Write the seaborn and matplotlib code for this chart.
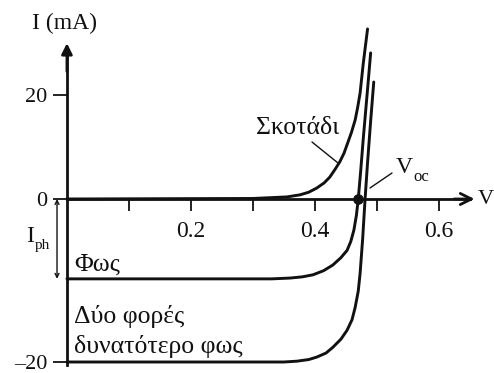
import numpy as np
import pandas as pd
import matplotlib
matplotlib.use("Agg")
import matplotlib.pyplot as plt
import seaborn as sns
from matplotlib.ticker import FixedLocator

# ---- data (V in volts, I in mA) ----
V_dark = [0.0, 0.30, 0.355, 0.376, 0.390, 0.403, 0.415, 0.424, 0.432, 0.440, 0.447,
          0.453, 0.459, 0.465, 0.469, 0.473, 0.478, 0.485]
I_dark = [0.0, 0.1, 0.4, 0.8, 1.3, 2.1, 3.1, 4.2, 5.6, 7.1, 8.8,
          10.8, 12.8, 15.2, 17.6, 20.4, 26.0, 32.7]

V_light = [0.0, 0.33, 0.360, 0.380, 0.397, 0.414, 0.429, 0.442, 0.452, 0.458,
           0.463, 0.467, 0.470, 0.474, 0.478, 0.482, 0.486, 0.490]
I_light = [-9.8, -9.8, -9.7, -9.55, -9.3, -8.8, -8.1, -7.2, -6.3, -5.2,
           -3.8, -2.0, 0.0, 5.5, 11.5, 17.0, 22.5, 28.1]

V_double = [0.0, 0.35, 0.371, 0.390, 0.403, 0.418, 0.429, 0.442, 0.452, 0.460,
            0.465, 0.470, 0.473, 0.477, 0.481, 0.485, 0.490, 0.495]
I_double = [-20.0, -20.0, -19.9, -19.7, -19.4, -18.9, -18.2, -17.2, -16.1, -14.8,
            -13.3, -11.3, -9.1, -5.0, 0.0, 7.0, 15.0, 22.5]

V_oc = [0.469]
I_oc = [0.0]
I_ph = 9.8

x_major = [0.2, 0.4, 0.6]
x_major_labels = ["0.2", "0.4", "0.6"]
x_minor = [0.1, 0.3, 0.5]
y_ticks = [-20, 0, 20]
y_tick_labels = ["\u201320", "0", "20"]

# ---- style ----
sns.set_theme(style="white")
plt.rcParams["font.family"] = ["Liberation Serif", "DejaVu Serif"]
INK = "#111111"

fig = plt.figure(figsize=(4.94, 3.73), dpi=100)
ax = fig.add_axes([0, 0, 1, 1])
ax.set_facecolor("white")

# schematic axis: positive currents drawn compressed
K = 0.638
def fwd(y):
    y = np.asarray(y, dtype=float)
    return np.where(y > 0, y * K, y)
def inv(y):
    y = np.asarray(y, dtype=float)
    return np.where(y > 0, y / K, y)
ax.set_yscale("function", functions=(fwd, inv))

frames = [
    pd.DataFrame({"V": V_dark, "I": I_dark, "curve": "dark"}),
    pd.DataFrame({"V": V_light, "I": I_light, "curve": "light"}),
    pd.DataFrame({"V": V_double, "I": I_double, "curve": "double"}),
]
for df in frames:
    sns.lineplot(data=df, x="V", y="I", sort=False, estimator=None,
                 color=INK, lw=2.1, ax=ax, legend=False)

sns.scatterplot(x=V_oc, y=I_oc, color=INK, s=50, edgecolor=INK, ax=ax, zorder=5)

ax.set_xlim(-0.108, 0.689)
ax.set_ylim(-21.35, 38.27)
ax.set_xlabel("")
ax.set_ylabel("")

# axes through origin
for s in ["top", "right"]:
    ax.spines[s].set_visible(False)
ax.spines["left"].set_position(("data", 0))
ax.spines["bottom"].set_position(("data", 0))
ax.spines["left"].set_bounds(-20.4, 29.0)
ax.spines["bottom"].set_bounds(0, 0.65)
for s in ["left", "bottom"]:
    ax.spines[s].set_color(INK)
    ax.spines[s].set_linewidth(2.0)

ax.xaxis.set_major_locator(FixedLocator(x_major))
ax.xaxis.set_minor_locator(FixedLocator(x_minor))
ax.set_xticklabels(x_major_labels)
ax.set_yticks(y_ticks)
ax.set_yticklabels(y_tick_labels)
ax.yaxis.set_minor_locator(FixedLocator([]))
ax.tick_params(axis="x", which="both", direction="out", length=8.5, width=1.3,
               color=INK, labelsize=17, labelcolor=INK, pad=7, bottom=True)
ax.tick_params(axis="y", which="both", direction="out", length=10, width=1.3,
               color=INK, labelsize=16, labelcolor=INK, pad=4, left=True)
ax.grid(False)

# arrow heads
ax.annotate("", xy=(0.662, 0), xytext=(0.62, 0),
            arrowprops=dict(arrowstyle="->", lw=2.0, color=INK, mutation_scale=20))
ax.annotate("", xy=(0, 30.5), xytext=(0, 24),
            arrowprops=dict(arrowstyle="-|>", lw=2.0, color=INK, mutation_scale=16))
# I_ph double arrow
ax.annotate("", xy=(-0.016, -I_ph), xytext=(-0.016, 0),
            arrowprops=dict(arrowstyle="<->", lw=1.0, color=INK, mutation_scale=7,
                            shrinkA=0, shrinkB=0))

W, H = 494.0, 373.0
def P(x, y):
    return (x / W, 1 - y / H)

T = ax.transAxes
fs = 17
fg = 18.5
ax.text(*P(32, 23), "I (mA)", transform=T, fontsize=fs, ha="left", va="center", color=INK)
ax.text(*P(478, 200), "V", transform=T, fontsize=16, ha="left", va="center", color=INK)
ax.text(*P(256, 128), "Σκοτάδι", transform=T, fontsize=fg, ha="left", va="center", color=INK)
ax.text(*P(396, 167), "V", transform=T, fontsize=fs, ha="left", va="center", color=INK)
ax.text(*P(413, 177), "oc", transform=T, fontsize=12, ha="left", va="center", color=INK)
ax.text(*P(26, 236), "I", transform=T, fontsize=fs, ha="left", va="center", color=INK)
ax.text(*P(35, 246), "ph", transform=T, fontsize=11, ha="left", va="center", color=INK)
ax.text(*P(74, 265), "Φως", transform=T, fontsize=fg, ha="left", va="center", color=INK)
ax.text(*P(74, 316), "Δύο φορές", transform=T, fontsize=fg, ha="left", va="center", color=INK)
ax.text(*P(74, 346), "δυνατότερο φως", transform=T, fontsize=fg, ha="left", va="center", color=INK)

# leader lines
ax.plot([312 / W, 338 / W], [1 - 142 / H, 1 - 163 / H], transform=T, color=INK, lw=1.0)
ax.plot([392 / W, 370 / W], [1 - 173 / H, 1 - 188 / H], transform=T, color=INK, lw=1.0)

fig.savefig("out.png", dpi=100, facecolor="white")
